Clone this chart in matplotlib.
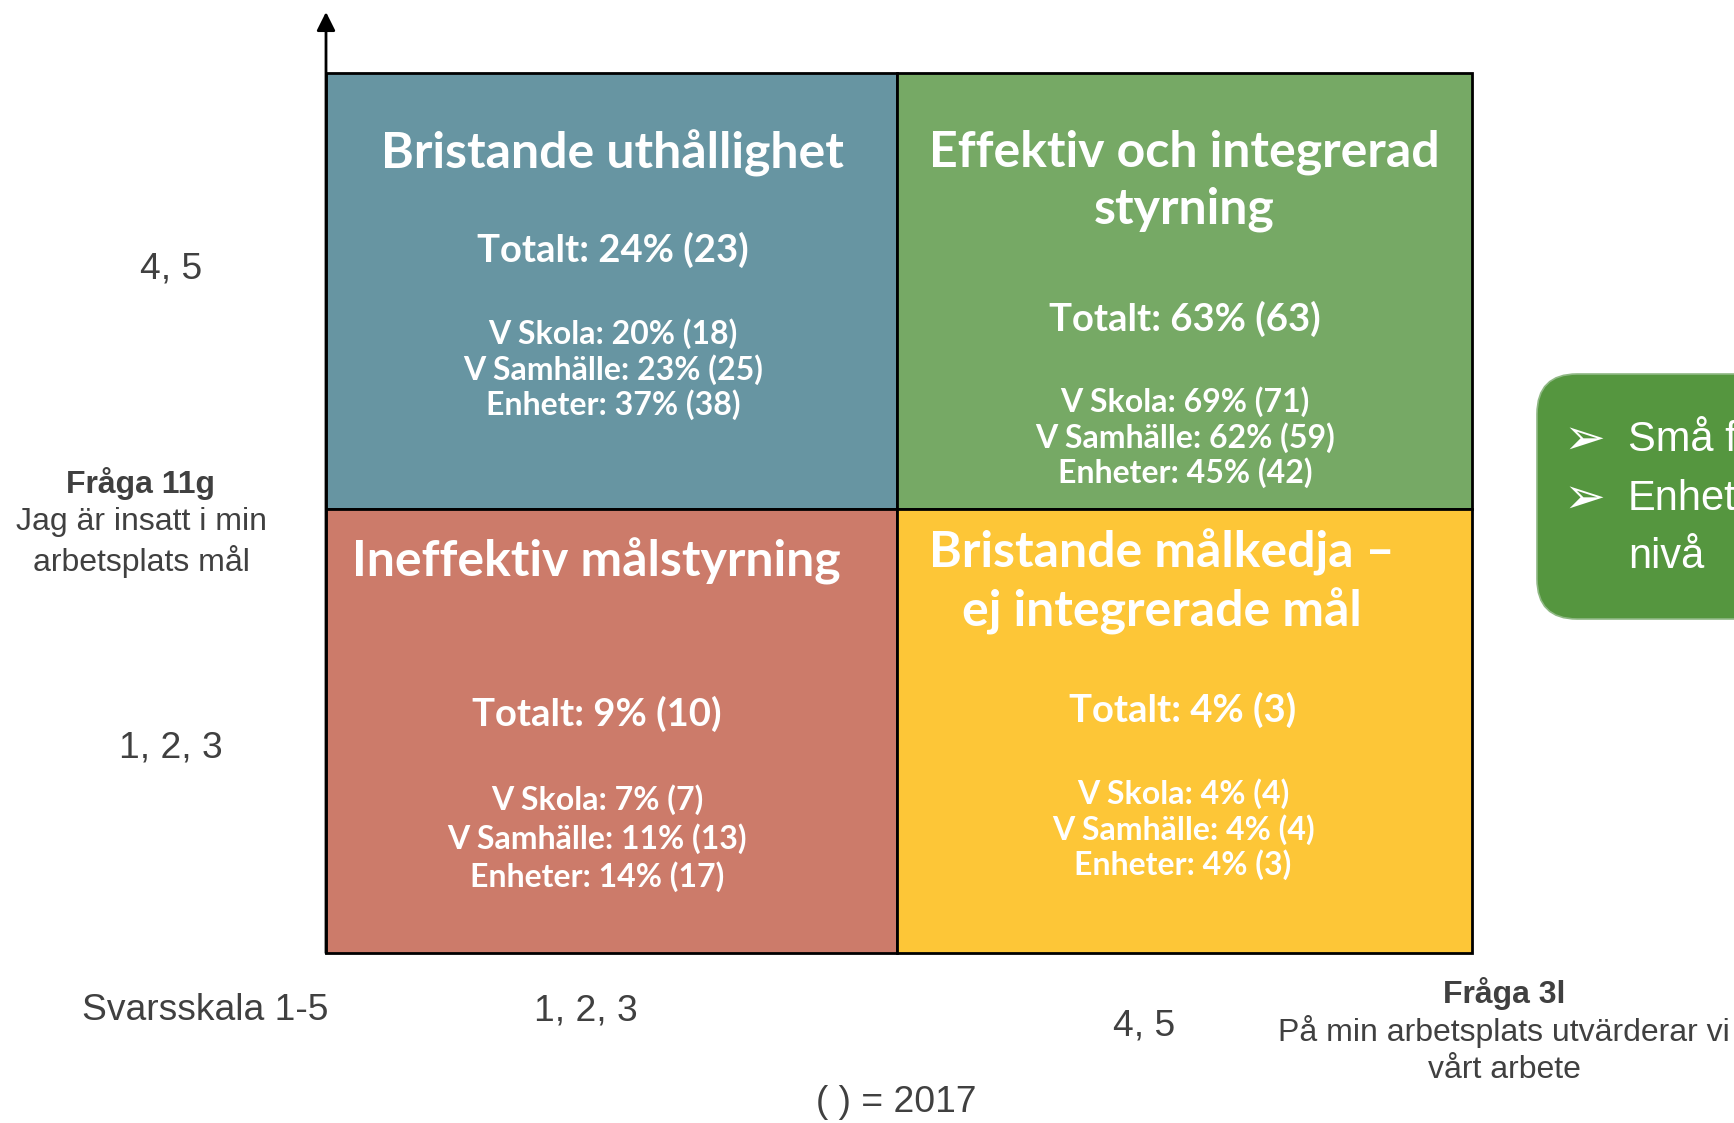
import matplotlib.pyplot as plt
from matplotlib.patches import Rectangle, FancyBboxPatch

# Quadrant contents (top-left, top-right, bottom-left, bottom-right)
titles = ["Bristande uthållighet",
          "Effektiv och integrerad\nstyrning",
          "Ineffektiv målstyrning",
          "Bristande målkedja –\nej integrerade mål"]
totals = ["Totalt: 24% (23)", "Totalt: 63% (63)", "Totalt: 9% (10)", "Totalt: 4% (3)"]
v_skola = ["20% (18)", "69% (71)", "7% (7)", "4% (4)"]
v_samhalle = ["23% (25)", "62% (59)", "11% (13)", "4% (4)"]
enheter = ["37% (38)", "45% (42)", "14% (17)", "4% (3)"]
colors = ["#6795a2", "#76a965", "#cc7b6a", "#fdc637"]

y_labels = ["4, 5", "1, 2, 3"]
x_labels = ["1, 2, 3", "4, 5"]
callout = ["Små f", "Enhet", "nivå"]

W, H = 1734, 1123
fig = plt.figure(figsize=(W / 100, H / 100), dpi=100)
ax = fig.add_axes([0, 0, 1, 1])
ax.set_xlim(0, W)
ax.set_ylim(H, 0)
ax.axis("off")

x0, xm, x1 = 326, 897, 1472
y0, ym, y1 = 73, 509, 953
boxes = [(x0, y0, xm, ym), (xm, y0, x1, ym), (x0, ym, xm, y1), (xm, ym, x1, y1)]

qfont = "Lato"
gray = "#404040"

# per-quadrant text layout: (cx, title_y, total_y, first line y, line step)
layout = [(612, 153, 250, 334, 35.5),
          (1184, 181, 319, 402, 35.5),
          (596, 561, 714, 800, 38.5),
          (1162, 582, 710, 794, 35.5)]

for i, (a, b, c, d) in enumerate(boxes):
    ax.add_patch(Rectangle((a, b), c - a, d - b, facecolor=colors[i],
                           edgecolor="black", lw=2, zorder=1))
    cx, ty, toty, ly, step = layout[i]
    ax.text(cx, ty, titles[i], ha="center", va="center", color="white",
            fontsize=36, fontweight="bold", family=qfont, linespacing=1.3)
    tx = cx + (1 if i != 3 else 21)
    ax.text(tx, toty, totals[i], ha="center", va="center",
            color="white", fontsize=27.5, fontweight="bold", family=qfont)
    lines = ["V Skola: " + v_skola[i], "V Samhälle: " + v_samhalle[i],
             "Enheter: " + enheter[i]]
    for k, s in enumerate(lines):
        ax.text(tx, ly + k * step, s, ha="center", va="center",
                color="white", fontsize=23, fontweight="bold", family=qfont)

# vertical axis arrow
ax.annotate("", xy=(326, 12), xytext=(326, y1),
            arrowprops=dict(arrowstyle="-|>", color="black", lw=2,
                            mutation_scale=28, shrinkA=0, shrinkB=0))

lab = ["Liberation Sans", "DejaVu Sans"]
big, small = 26.8, 23
ax.text(171, 269, y_labels[0], ha="center", va="center", fontsize=big, color=gray, family=lab)
ax.text(171, 748, y_labels[1], ha="center", va="center", fontsize=big, color=gray, family=lab)
ax.text(141, 483, "Fråga 11g", ha="center", va="center", fontsize=small,
        fontweight="bold", color=gray, family=lab)
ax.text(141, 522, "Jag är insatt i min", ha="center", va="center", fontsize=small, color=gray, family=lab)
ax.text(141, 561, "arbetsplats mål", ha="center", va="center", fontsize=small, color=gray, family=lab)

ax.text(205, 1011, "Svarsskala 1-5", ha="center", va="center", fontsize=big, color=gray, family=lab)
ax.text(586, 1011, x_labels[0], ha="center", va="center", fontsize=big, color=gray, family=lab)
ax.text(1144, 1026, x_labels[1], ha="center", va="center", fontsize=big, color=gray, family=lab)
ax.text(1504, 993, "Fråga 3l", ha="center", va="center", fontsize=small,
        fontweight="bold", color=gray, family=lab)
ax.text(1504, 1032, "På min arbetsplats utvärderar vi", ha="center", va="center",
        fontsize=small, color=gray, family=lab)
ax.text(1504, 1070, "vårt arbete", ha="center", va="center", fontsize=small, color=gray, family=lab)
ax.text(896, 1103, "( ) = 2017", ha="center", va="center", fontsize=big, color=gray, family=lab)

# green callout box, cut off at the right edge
ax.add_patch(FancyBboxPatch((1537, 374), 300, 245,
                            boxstyle="round,pad=0,rounding_size=40",
                            facecolor="#55963f", edgecolor="#8fb884", lw=1.2, zorder=2))
for k, s in enumerate(callout):
    y = 440 + k * 58.5
    if k < 2:
        ax.text(1584, y, "➢", ha="center", va="center", fontsize=36, color="white",
                family=["DejaVu Sans"], zorder=3)
    ax.text(1628, y, s, ha="left", va="center", fontsize=30, color="white",
            family=lab, zorder=3)

fig.savefig("out.png", dpi=100)
